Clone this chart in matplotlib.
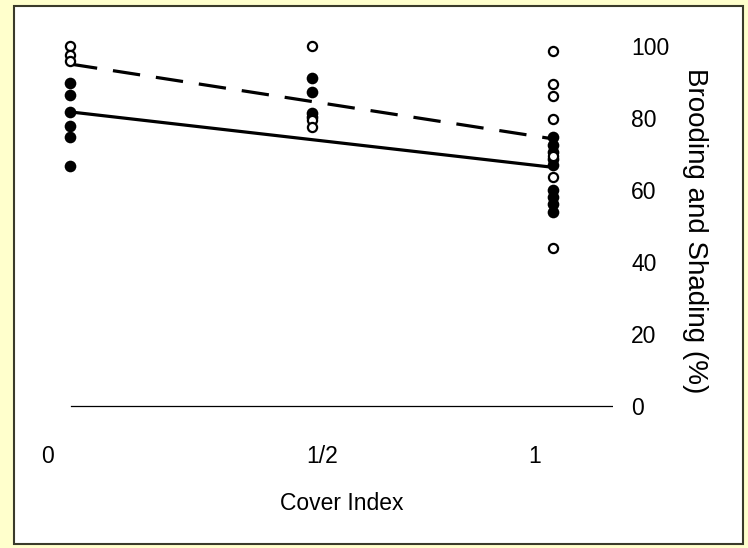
import matplotlib
matplotlib.use("Agg")
import matplotlib.pyplot as plt
from matplotlib.patches import Rectangle

# ---------------- data ----------------
cover_x = [0.0, 0.5, 1.0]
cover_tick_labels = ["0", "1/2", "1"]
y_ticks = [0, 20, 40, 60, 80, 100]

# open circles (shading)
open_x0 = [100.0, 97.5, 95.8]
open_x05 = [100.0, 79.5, 77.6]
open_x1 = [98.7, 89.4, 86.0, 79.7, 69.5, 63.7, 43.9]
# filled circles (brooding)
filled_x0 = [89.6, 86.3, 81.8, 77.8, 74.7, 66.7]
filled_x05 = [91.1, 87.2, 81.3, 80.2]
filled_x1 = [74.8, 72.5, 70.5, 68.5, 67.0, 60.0, 58.0, 56.0, 54.0]

# fitted lines (value at cover 0 and cover 1)
line_x = [0.0, 1.0]
dashed_fit = [95.0, 74.2]
solid_fit = [81.7, 66.3]

# ---------------- layout (pixels) ----------------
W, H = 748, 548
plt.rcParams["font.family"] = ["Liberation Sans", "DejaVu Sans"]
fig = plt.figure(figsize=(W / 100, H / 100), dpi=100)
fig.patch.set_facecolor("#FFFFCC")

# white panel with dark border
panel = Rectangle((14 / W, 1 - 544 / H), (743 - 14) / W, (544 - 6) / H,
                  transform=fig.transFigure, facecolor="white",
                  edgecolor="#3a3a2a", linewidth=1.5, zorder=-10)
fig.patches.append(panel)

# axes box in pixels
ax_l, ax_r, ax_t, ax_b = 30, 613, 30, 420
ax = fig.add_axes([ax_l / W, 1 - ax_b / H, (ax_r - ax_l) / W, (ax_b - ax_t) / H])
ax.set_zorder(5)
ax.set_facecolor("none")

# pixel anchors: cover 0 -> px 70, cover 1 -> px 553 ; value 0 -> px 406, 100 -> px 46
px0, px1 = 70, 553
sx = (px1 - px0)
ax.set_xlim((ax_l - px0) / sx, (ax_r - px0) / sx)
py0, py100 = 406, 46
sy = (py0 - py100) / 100
ax.set_ylim((py0 - ax_b) / sy, (py0 - ax_t) / sy)

for s in ax.spines.values():
    s.set_visible(False)

# zero line
ax.axhline(0, xmin=(71 - ax_l) / (ax_r - ax_l), xmax=1.0, color="black", linewidth=0.9)

# fitted lines
ax.plot(line_x, dashed_fit, color="black", linewidth=2.3, linestyle=(0, (8.6, 5.0)),
        dash_capstyle="butt", zorder=2)
ax.plot(line_x, solid_fit, color="black", linewidth=2.3, solid_capstyle="butt", zorder=2)

# points
def pts(x, vals, filled):
    xs = [x] * len(vals)
    if filled:
        ax.plot(xs, vals, linestyle="none", marker="o", markersize=8.4,
                markerfacecolor="black", markeredgecolor="black", markeredgewidth=0, zorder=3)
    else:
        ax.plot(xs, vals, linestyle="none", marker="o", markersize=6.6,
                markerfacecolor="white", markeredgecolor="black", markeredgewidth=1.6, zorder=4)

pts(cover_x[0], filled_x0, True)
pts(cover_x[1], filled_x05, True)
pts(cover_x[2], filled_x1, True)
pts(cover_x[0], open_x0, False)
pts(cover_x[1], open_x05, False)
pts(cover_x[2], open_x1, False)

# y ticks on right
ax.yaxis.tick_right()
ax.set_yticks(y_ticks)
ax.set_yticklabels([str(v) for v in y_ticks])
ax.tick_params(axis="y", length=0, pad=13, labelsize=16.5)
for lab in ax.get_yticklabels():
    lab.set_horizontalalignment("left")

# x tick labels (placed where the reference shows them)
label_px = [48, 322, 535]
ax.set_xticks([(p - px0) / sx for p in label_px])
ax.set_xticklabels(cover_tick_labels)
ax.tick_params(axis="x", length=0, pad=18, labelsize=16.5)

ax.set_xlabel("Cover Index", fontsize=16.5, va="center")
ax.xaxis.set_label_coords((342 - ax_l) / (ax_r - ax_l), -(503 - ax_b) / (ax_b - ax_t))

ax.yaxis.set_label_position("right")
ax.set_ylabel("Brooding and Shading (%)", fontsize=20, rotation=-90, va="center", ha="center")
ax.yaxis.set_label_coords((695 - ax_l) / (ax_r - ax_l), (ax_b - 231) / (ax_b - ax_t))

fig.savefig("out.png", dpi=100, facecolor=fig.get_facecolor())
